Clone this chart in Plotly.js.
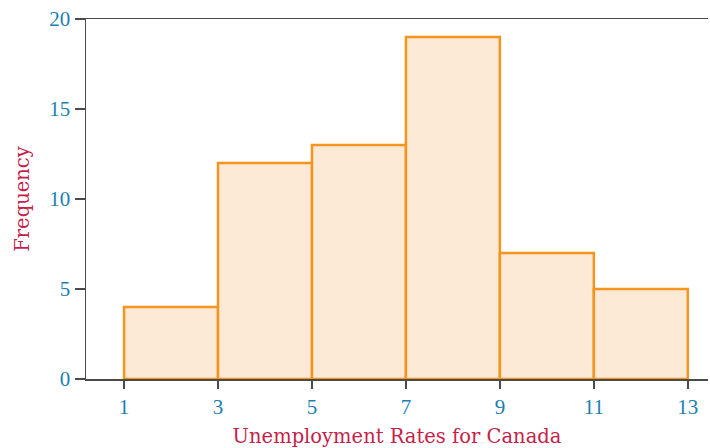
<!DOCTYPE html>
<html>
<head>
<meta charset="utf-8">
<script src="https://cdn.plot.ly/plotly-3.0.1.min.js"></script>
<style>html,body{margin:0;padding:0;background:#fff;}#chart{width:710px;height:448px;}</style>
</head>
<body>
<div id="chart"></div>
<script>
const binStart = [1, 3, 5, 7, 9, 11];
const binEnd = [3, 5, 7, 9, 11, 13];
const frequency = [4, 12, 13, 19, 7, 5];
const xTicks = [1, 3, 5, 7, 9, 11, 13];
const yTicks = [0, 5, 10, 15, 20];
const xTitle = 'Unemployment Rates for Canada';
const yTitle = 'Frequency';

const mids = binStart.map((s, i) => (s + binEnd[i]) / 2);
const widths = binStart.map((s, i) => binEnd[i] - s);

const tickColor = '#1a7fb1';
const titleColor = '#c51f4b';
const lineColor = '#4a4a4a';
const fontFam = '"Liberation Serif", "DejaVu Serif", serif';
const titleFam = '"DejaVu Serif", "Liberation Serif", serif';

const trace = {
  type: 'bar',
  x: mids,
  y: frequency,
  width: widths,
  marker: { color: '#fce9d6', line: { color: '#f7941e', width: 2.5 } },
  hoverinfo: 'skip'
};

const layout = {
  width: 710, height: 448,
  margin: { l: 86, r: 2, t: 19, b: 69 },
  paper_bgcolor: '#fff', plot_bgcolor: '#fff',
  showlegend: false,
  bargap: 0,
  xaxis: {
    range: [0.19, 13.43],
    tickmode: 'array', tickvals: xTicks, ticktext: xTicks.map(String),
    ticks: 'outside', ticklen: 8, tickwidth: 1.5, tickcolor: lineColor,
    showline: true, linecolor: lineColor, linewidth: 1.5, mirror: true,
    showgrid: false, zeroline: false,
    tickfont: { family: fontFam, size: 21, color: tickColor },
    title: { text: xTitle, font: { family: titleFam, size: 19.5, color: titleColor }, standoff: 12 }
  },
  yaxis: {
    range: [0, 20],
    tickmode: 'array', tickvals: yTicks, ticktext: yTicks.map(String),
    ticks: 'outside', ticklen: 10, tickwidth: 1.5, tickcolor: lineColor,
    showline: true, linecolor: lineColor, linewidth: 1.5,
    showgrid: false, zeroline: false,
    tickfont: { family: fontFam, size: 21, color: tickColor },
    title: { text: yTitle, font: { family: titleFam, size: 19.5, color: titleColor }, standoff: 14 }
  }
};

Plotly.newPlot('chart', [trace], layout, { staticPlot: true, displayModeBar: false });
</script>
</body>
</html>
